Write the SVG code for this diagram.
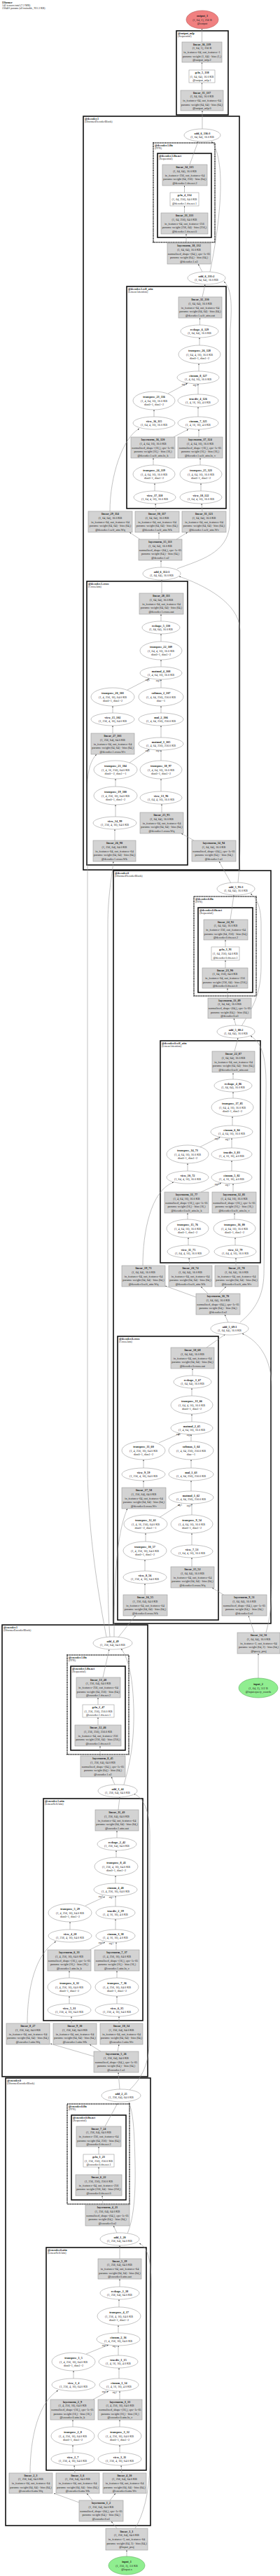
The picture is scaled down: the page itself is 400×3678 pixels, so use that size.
<svg xmlns="http://www.w3.org/2000/svg" width="400" height="3678" viewBox="0 0 400 3678">
<style>
text{font-family:"Liberation Serif","Times New Roman",serif;font-size:4.2px;fill:#222;text-anchor:middle}
.b{font-weight:bold}
.g{fill:#d3d3d3;stroke:#9a9a9a;stroke-width:.6}
.w{fill:#fff;stroke:#9a9a9a;stroke-width:.6}
.e{fill:#fff;stroke:#9a9a9a;stroke-width:.6}
.in{fill:#90ee90;stroke:#5fae5f;stroke-width:.6}
.out{fill:#f08080;stroke:#b85a5a;stroke-width:.6}
.c{fill:none;stroke:#111;stroke-width:1.6}
.cd{fill:none;stroke:#111;stroke-width:1.6;stroke-dasharray:1 .7}
.cl{text-anchor:start;font-size:4px}
.tt{text-anchor:start;font-size:3.8px}
.edges path{fill:none;stroke:#999;stroke-width:.6;marker-end:url(#a)}
.el{font-size:3.2px}
</style>
<defs><marker id="a" viewBox="0 0 4 3" refX="4" refY="1.5" markerWidth="2.4" markerHeight="1.8" markerUnits="userSpaceOnUse" orient="auto"><path d="M0,0L4,1.5L0,3z" fill="#333"/></marker></defs>
<rect width="400" height="3678" fill="#fff"/>
<g id="title"><text class="tt" x="3" y="5.3"><tspan class="b">IJformer</tspan><tspan x="3" dy="3.8">142 tensors total (7.2 MB)</tspan><tspan x="3" dy="3.8">230401 params (all trainable, 931.3 KB)</tspan></text></g>

<g id="clusters">
<g id="cl_output_mlp"><rect class="c" x="252" y="44" width="74" height="120"/><text class="cl" x="254" y="48.6"><tspan class="b">@output_mlp</tspan><tspan x="254" dy="4">(Sequential)</tspan></text></g>
<g id="cl_decoder1"><rect class="c" x="119" y="166" width="223" height="1076"/><text class="cl" x="121" y="170.6"><tspan class="b">@decoder.1</tspan><tspan x="121" dy="4">(IJformerDecoderBlock)</tspan></text></g>
<g id="cl_decoder1_ffn"><rect class="cd" x="219" y="204" width="88" height="142"/><text class="cl" x="221" y="208.6"><tspan class="b">@decoder.1.ffn</tspan><tspan x="221" dy="4">(FFN)</tspan></text></g>
<g id="cl_decoder1_ffn_net"><rect class="c" x="225" y="219" width="77" height="120"/><text class="cl" x="227" y="223.6"><tspan class="b">@decoder.1.ffn.net</tspan><tspan x="227" dy="4">(Sequential)</tspan></text></g>
<g id="cl_decoder1_self_attn"><rect class="c" x="181" y="409" width="142" height="317"/><text class="cl" x="183" y="413.6"><tspan class="b">@decoder.1.self_attn</tspan><tspan x="183" dy="4">(LinearAttention)</tspan></text></g>
<g id="cl_decoder1_cross"><rect class="c" x="124" y="830" width="144" height="405"/><text class="cl" x="126" y="834.6"><tspan class="b">@decoder.1.cross</tspan><tspan x="126" dy="4">(CrossAttn)</tspan></text></g>
<g id="cl_decoder0"><rect class="c" x="162" y="1243" width="225" height="1075"/><text class="cl" x="164" y="1247.6"><tspan class="b">@decoder.0</tspan><tspan x="164" dy="4">(IJformerDecoderBlock)</tspan></text></g>
<g id="cl_decoder0_ffn"><rect class="cd" x="277" y="1280" width="89" height="142"/><text class="cl" x="279" y="1284.6"><tspan class="b">@decoder.0.ffn</tspan><tspan x="279" dy="4">(FFN)</tspan></text></g>
<g id="cl_decoder0_ffn_net"><rect class="c" x="283" y="1296" width="78" height="121"/><text class="cl" x="285" y="1300.6"><tspan class="b">@decoder.0.ffn.net</tspan><tspan x="285" dy="4">(Sequential)</tspan></text></g>
<g id="cl_decoder0_self_attn"><rect class="c" x="229" y="1486" width="143" height="317"/><text class="cl" x="231" y="1490.6"><tspan class="b">@decoder.0.self_attn</tspan><tspan x="231" dy="4">(LinearAttention)</tspan></text></g>
<g id="cl_decoder0_cross"><rect class="c" x="168" y="1908" width="144" height="405"/><text class="cl" x="170" y="1912.6"><tspan class="b">@decoder.0.cross</tspan><tspan x="170" dy="4">(CrossAttn)</tspan></text></g>
<g id="cl_encoder1"><rect class="c" x="3" y="2320" width="208" height="645"/><text class="cl" x="5" y="2324.6"><tspan class="b">@encoder.1</tspan><tspan x="5" dy="4">(IJformerEncoderBlock)</tspan></text></g>
<g id="cl_encoder1_ffn"><rect class="cd" x="96" y="2363" width="88" height="142"/><text class="cl" x="98" y="2367.6"><tspan class="b">@encoder.1.ffn</tspan><tspan x="98" dy="4">(FFN)</tspan></text></g>
<g id="cl_encoder1_ffn_net"><rect class="c" x="101" y="2379" width="78" height="120"/><text class="cl" x="103" y="2383.6"><tspan class="b">@encoder.1.ffn.net</tspan><tspan x="103" dy="4">(Sequential)</tspan></text></g>
<g id="cl_encoder1_attn"><rect class="c" x="62" y="2568" width="142" height="317"/><text class="cl" x="64" y="2572.6"><tspan class="b">@encoder.1.attn</tspan><tspan x="64" dy="4">(LinearSelfAttn)</tspan></text></g>
<g id="cl_encoder0"><rect class="c" x="8" y="2967" width="207" height="639"/><text class="cl" x="10" y="2971.6"><tspan class="b">@encoder.0</tspan><tspan x="10" dy="4">(IJformerEncoderBlock)</tspan></text></g>
<g id="cl_encoder0_ffn"><rect class="cd" x="96" y="3004" width="89" height="143"/><text class="cl" x="98" y="3008.6"><tspan class="b">@encoder.0.ffn</tspan><tspan x="98" dy="4">(FFN)</tspan></text></g>
<g id="cl_encoder0_ffn_net"><rect class="c" x="102" y="3020" width="78" height="121"/><text class="cl" x="104" y="3024.6"><tspan class="b">@encoder.0.ffn.net</tspan><tspan x="104" dy="4">(Sequential)</tspan></text></g>
<g id="cl_encoder0_attn"><rect class="c" x="66" y="3209" width="143" height="318"/><text class="cl" x="68" y="3213.6"><tspan class="b">@encoder.0.attn</tspan><tspan x="68" dy="4">(LinearSelfAttn)</tspan></text></g>
</g>

<g id="connectors" class="edges">
<path d="M289,184L289,158"/>
<path d="M288.5,129L288.5,118"/>
<path d="M288.5,100L288.5,89"/>
<path d="M288.5,60L288.5,41"/>
<path d="M271,235L283,202"/>
<path d="M300,388C310,340 318,280 314,240C311,215 306,206 302,202"/>
<path d="M263.5,304L263.5,294"/>
<path d="M263.5,275L263.5,265"/>
<path d="M266,347L266,334"/>
<path d="M289,388L283,377"/>
<path d="M289,424L293,406"/>
<path d="M253,812C285,800 325,790 328,750L329,470C332,430 330,412 320,402"/>
<path d="M285.5,464L285.5,454"/>
<path d="M285,493L285,482"/>
<path d="M284,530L284,519"/>
<path d="M240,562L268,547"/>
<path d="M283,563L283,548"/>
<path d="M220,595L220,585"/>
<path d="M283,595L283,581"/>
<path d="M157,730C157,680 175,625 199,612"/>
<path d="M248,624L269,613"/>
<path d="M284,624L284,613"/>
<path d="M219,664L219,654"/>
<path d="M286,664L286,654"/>
<path d="M221,701L221,690"/>
<path d="M287,701L287,690"/>
<path d="M223,730L222,719"/>
<path d="M289,730L288,719"/>
<path d="M200,770L185,760"/>
<path d="M227,770L227,760"/>
<path d="M252,770L268,760"/>
<path d="M230,810L230,800"/>
<path d="M231,847L231,828"/>
<path d="M340,1260C342,1240 343,1220 343,1200L343,900C342,860 290,835 256,823"/>
<path d="M330,1261L313,1230"/>
<path d="M277,1200L259,1190"/>
<path d="M231,1160L231,1148"/>
<path d="M230,1130L230,1112"/>
<path d="M230,1086L230,1071"/>
<path d="M164,1200L164,1184"/>
<path d="M165,1166L165,1149"/>
<path d="M165,1123L165,1112"/>
<path d="M185,1089L213,1070"/>
<path d="M230,1053L230,1036"/>
<path d="M230,1018L230,1008"/>
<path d="M230,982L230,970"/>
<path d="M161,1047L161,1036"/>
<path d="M161,1018L161,1008"/>
<path d="M182,985L213,969"/>
<path d="M230,952L230,942"/>
<path d="M230,916L230,905"/>
<path d="M230,887L230,877"/>
<path d="M337,1464L334,1454"/>
<path d="M345,1465C360,1440 373,1420 373,1380L373,1320C373,1295 367,1283 358,1276"/>
<path d="M325,1425L325,1411"/>
<path d="M322,1382L322,1371"/>
<path d="M322,1352L322,1342"/>
<path d="M329,1313L334,1278"/>
<path d="M335,1501L340,1482"/>
<path d="M343,1888C365,1870 376,1850 377,1820L380,1560C381,1510 375,1490 358,1479"/>
<path d="M333,1541L333,1532"/>
<path d="M333,1568L333,1559"/>
<path d="M332,1607L332,1594"/>
<path d="M285,1638L315,1623"/>
<path d="M331,1639L331,1625"/>
<path d="M268,1672L268,1661"/>
<path d="M331,1672L331,1657"/>
<path d="M204,1807C204,1760 215,1700 248,1688"/>
<path d="M287,1702L316,1689"/>
<path d="M333,1702L333,1690"/>
<path d="M268,1741L268,1732"/>
<path d="M335,1741L335,1732"/>
<path d="M269,1778L269,1767"/>
<path d="M336,1778L336,1767"/>
<path d="M271,1807L270,1796"/>
<path d="M337,1807L337,1796"/>
<path d="M280,1852L236,1836"/>
<path d="M297,1847L287,1837"/>
<path d="M313,1847L323,1837"/>
<path d="M326,1888L321,1877"/>
<path d="M295,1924L322,1905"/>
<path d="M380,2331C386,2310 388,2290 388,2260L388,1980C388,1940 370,1915 346,1904"/>
<path d="M363,2331L355,2307"/>
<path d="M369,2396L369,2361"/>
<path d="M321,2278L303,2267"/>
<path d="M274,2237L274,2224"/>
<path d="M274,2206L274,2189"/>
<path d="M274,2163L274,2147"/>
<path d="M207,2277L207,2261"/>
<path d="M207,2243L207,2227"/>
<path d="M208,2201L208,2189"/>
<path d="M227,2167L257,2148"/>
<path d="M273,2129L273,2114"/>
<path d="M273,2096L273,2084"/>
<path d="M273,2058L273,2048"/>
<path d="M205,2124L205,2114"/>
<path d="M205,2096L205,2084"/>
<path d="M227,2060L257,2047"/>
<path d="M274,2030L274,2019"/>
<path d="M274,1993L274,1982"/>
<path d="M275,1964L275,1954"/>
<path d="M168,2339L194,2306"/>
<path d="M163,2337C163,2260 166,2190 182,2154"/>
<path d="M152,2337C145,2300 126,2200 125,2100L125,1120C125,1100 130,1085 138,1077"/>
<path d="M157,2337C154,2300 154,2250 154,2200L154,1320C154,1280 160,1250 162,1230"/>
<path d="M143,2507L143,2493"/>
<path d="M140,2463L140,2452"/>
<path d="M140,2434L140,2424"/>
<path d="M147,2395L156,2355"/>
<path d="M177,2548C185,2520 192,2490 191,2440C190,2400 185,2370 173,2354"/>
<path d="M164,2548L159,2537"/>
<path d="M169,2584L171,2566"/>
<path d="M167,2624L167,2614"/>
<path d="M166,2652L166,2642"/>
<path d="M165,2689L165,2678"/>
<path d="M122,2721L150,2708"/>
<path d="M165,2722L165,2707"/>
<path d="M100,2755L100,2744"/>
<path d="M165,2755L165,2740"/>
<path d="M39,2889C39,2840 50,2790 80,2772"/>
<path d="M128,2784L150,2773"/>
<path d="M166,2784L166,2773"/>
<path d="M99,2824L99,2814"/>
<path d="M167,2824L167,2814"/>
<path d="M99,2861L99,2850"/>
<path d="M167,2861L167,2850"/>
<path d="M102,2889L102,2879"/>
<path d="M170,2889L170,2879"/>
<path d="M134,2936L72,2918"/>
<path d="M144,2929L128,2919"/>
<path d="M168,2929L170,2919"/>
<path d="M171,2983L169,2959"/>
<path d="M185,2984C200,2970 212,2950 213,2920L214,2620C214,2585 205,2567 191,2561"/>
<path d="M150,3036L168,3003"/>
<path d="M182,3189C190,3170 194,3140 193,3090C192,3040 190,3015 184,3002"/>
<path d="M167,3188L162,3178"/>
<path d="M147,3148L146,3135"/>
<path d="M141,3105L141,3094"/>
<path d="M141,3076L141,3065"/>
<path d="M171,3225L171,3206"/>
<path d="M171,3265L171,3254"/>
<path d="M170,3294L170,3283"/>
<path d="M169,3331L169,3320"/>
<path d="M123,3361L155,3348"/>
<path d="M169,3363L169,3349"/>
<path d="M105,3396L105,3385"/>
<path d="M170,3396L170,3381"/>
<path d="M43,3531C43,3480 55,3430 83,3413"/>
<path d="M133,3426L155,3414"/>
<path d="M171,3426L171,3414"/>
<path d="M104,3465L104,3455"/>
<path d="M171,3465L171,3455"/>
<path d="M104,3502L104,3491"/>
<path d="M171,3502L171,3491"/>
<path d="M107,3531L106,3520"/>
<path d="M174,3531L173,3520"/>
<path d="M113,3573L77,3560"/>
<path d="M132,3570L124,3560"/>
<path d="M157,3570L165,3560"/>
<path d="M167,3610L159,3600"/>
<path d="M193,3610C205,3590 213,3560 214,3520L216,3260C216,3225 210,3208 199,3203"/>
<path d="M181,3650L181,3641"/>
</g>
<g id="edge-labels">
<text class="el" x="263" y="550">arg 0</text><text class="el" x="279" y="551">arg 1</text>
<text class="el" x="211" y="972">arg 1</text><text class="el" x="226" y="973">arg 0</text>
<text class="el" x="211" y="1073">arg 1</text><text class="el" x="226" y="1073">arg 0</text>
<text class="el" x="310" y="1627">arg 0</text><text class="el" x="325" y="1628">arg 1</text>
<text class="el" x="310" y="1692">arg 0</text><text class="el" x="325" y="1693">arg 1</text>
<text class="el" x="255" y="2049">arg 1</text><text class="el" x="270" y="2050">arg 0</text>
<text class="el" x="257" y="2150">arg 1</text><text class="el" x="270" y="2151">arg 0</text>
<text class="el" x="144" y="2709">arg 0</text><text class="el" x="159" y="2710">arg 1</text>
<text class="el" x="144" y="2775">arg 0</text><text class="el" x="159" y="2776">arg 1</text>
<text class="el" x="149" y="3350">arg 0</text><text class="el" x="164" y="3351">arg 1</text>
<text class="el" x="149" y="3416">arg 0</text><text class="el" x="164" y="3417">arg 1</text>
</g>

<g id="output_1"><ellipse class="out" cx="289" cy="28" rx="23" ry="13"/><text x="289" y="23.9"><tspan class="b">output_1</tspan><tspan x="289" dy="5.6">(1, 64, 1), 256 B</tspan><tspan x="289" dy="5.6">@output</tspan></text></g>
<g id="linear_36_139"><rect class="g" x="260" y="60" width="57" height="29"/><text x="288.5" y="64.8"><tspan class="b">linear_36_139</tspan><tspan x="288.5" dy="5.6">(1, 64, 1), 256 B</tspan><tspan x="288.5" dy="5.6">in_features=64, out_features=1</tspan><tspan x="288.5" dy="5.6">params: weight (1, 64) · bias (1,)</tspan><tspan x="288.5" dy="5.6">@output_mlp.2</tspan></text></g>
<g id="gelu_5_138"><rect class="w" x="270" y="100" width="37" height="18"/><text x="288.5" y="104.9"><tspan class="b">gelu_5_138</tspan><tspan x="288.5" dy="5.6">(1, 64, 64), 16.0 KB</tspan><tspan x="288.5" dy="5.6">@output_mlp.1</tspan></text></g>
<g id="linear_35_137"><rect class="g" x="258" y="129" width="61" height="29"/><text x="288.5" y="133.8"><tspan class="b">linear_35_137</tspan><tspan x="288.5" dy="5.6">(1, 64, 64), 16.0 KB</tspan><tspan x="288.5" dy="5.6">in_features=64, out_features=64</tspan><tspan x="288.5" dy="5.6">params: weight (64, 64) · bias (64,)</tspan><tspan x="288.5" dy="5.6">@output_mlp.0</tspan></text></g>
<g id="add_6_136_3"><ellipse class="e" cx="289" cy="193" rx="26" ry="9"/><text x="289" y="191.7"><tspan class="b">add_6_136:3</tspan><tspan x="289" dy="5.6">(1, 64, 64), 16.0 KB</tspan></text></g>
<g id="linear_34_135"><rect class="g" x="232" y="235" width="64" height="30"/><text x="264" y="240.3"><tspan class="b">linear_34_135</tspan><tspan x="264" dy="5.6">(1, 64, 64), 16.0 KB</tspan><tspan x="264" dy="5.6">in_features=256, out_features=64</tspan><tspan x="264" dy="5.6">params: weight (64, 256) · bias (64,)</tspan><tspan x="264" dy="5.6">@decoder.1.ffn.net.2</tspan></text></g>
<g id="gelu_4_134"><rect class="w" x="243" y="275" width="41" height="19"/><text x="263.5" y="280.4"><tspan class="b">gelu_4_134</tspan><tspan x="263.5" dy="5.6">(1, 64, 256), 64.0 KB</tspan><tspan x="263.5" dy="5.6">@decoder.1.ffn.net.1</tspan></text></g>
<g id="linear_33_133"><rect class="g" x="230" y="304" width="67" height="30"/><text x="263.5" y="309.3"><tspan class="b">linear_33_133</tspan><tspan x="263.5" dy="5.6">(1, 64, 256), 64.0 KB</tspan><tspan x="263.5" dy="5.6">in_features=64, out_features=256</tspan><tspan x="263.5" dy="5.6">params: weight (256, 64) · bias (256,)</tspan><tspan x="263.5" dy="5.6">@decoder.1.ffn.net.0</tspan></text></g>
<g id="layernorm_18_132"><rect class="g" x="239" y="347" width="62" height="30"/><text x="270" y="352.3"><tspan class="b">layernorm_18_132</tspan><tspan x="270" dy="5.6">(1, 64, 64), 16.0 KB</tspan><tspan x="270" dy="5.6">normalized_shape=(64,), eps=1e-05</tspan><tspan x="270" dy="5.6">params: weight (64,) · bias (64,)</tspan><tspan x="270" dy="5.6">@decoder.1.n3</tspan></text></g>
<g id="add_6_131_2"><ellipse class="e" cx="295" cy="397" rx="27" ry="9"/><text x="295" y="395.7"><tspan class="b">add_6_131:2</tspan><tspan x="295" dy="5.6">(1, 64, 64), 16.0 KB</tspan></text></g>
<g id="linear_32_130"><rect class="g" x="255" y="424" width="62" height="30"/><text x="286" y="429.3"><tspan class="b">linear_32_130</tspan><tspan x="286" dy="5.6">(1, 64, 64), 16.0 KB</tspan><tspan x="286" dy="5.6">in_features=64, out_features=64</tspan><tspan x="286" dy="5.6">params: weight (64, 64) · bias (64,)</tspan><tspan x="286" dy="5.6">@decoder.1.self_attn.out</tspan></text></g>
<g id="reshape_6_129"><ellipse class="e" cx="285" cy="473" rx="27" ry="9"/><text x="285" y="471.7"><tspan class="b">reshape_6_129</tspan><tspan x="285" dy="5.6">(1, 64, 64), 16.0 KB</tspan></text></g>
<g id="transpose_26_128"><ellipse class="e" cx="285" cy="506" rx="30" ry="13"/><text x="285" y="501.9"><tspan class="b">transpose_26_128</tspan><tspan x="285" dy="5.6">(1, 64, 4, 16), 16.0 KB</tspan><tspan x="285" dy="5.6">dim0=1, dim1=2</tspan></text></g>
<g id="einsum_8_127"><ellipse class="e" cx="283" cy="539" rx="30" ry="9"/><text x="283" y="537.7"><tspan class="b">einsum_8_127</tspan><tspan x="283" dy="5.6">(1, 4, 64, 16), 16.0 KB</tspan></text></g>
<g id="transpose_23_116"><ellipse class="e" cx="220" cy="572" rx="30" ry="13"/><text x="220" y="567.9"><tspan class="b">transpose_23_116</tspan><tspan x="220" dy="5.6">(1, 4, 64, 16), 16.0 KB</tspan><tspan x="220" dy="5.6">dim0=1, dim1=2</tspan></text></g>
<g id="truediv_4_126"><ellipse class="e" cx="283" cy="572" rx="29" ry="9"/><text x="283" y="570.7"><tspan class="b">truediv_4_126</tspan><tspan x="283" dy="5.6">(1, 4, 16, 16), 4.0 KB</tspan></text></g>
<g id="view_16_115"><ellipse class="e" cx="220" cy="604" rx="30" ry="9"/><text x="220" y="602.7"><tspan class="b">view_16_115</tspan><tspan x="220" dy="5.6">(1, 64, 4, 16), 16.0 KB</tspan></text></g>
<g id="einsum_7_125"><ellipse class="e" cx="283" cy="604" rx="29" ry="9"/><text x="283" y="602.7"><tspan class="b">einsum_7_125</tspan><tspan x="283" dy="5.6">(1, 4, 16, 16), 4.0 KB</tspan></text></g>
<g id="layernorm_16_120"><rect class="g" x="187" y="624" width="63" height="30"/><text x="218.5" y="629.3"><tspan class="b">layernorm_16_120</tspan><tspan x="218.5" dy="5.6">(1, 4, 64, 16), 16.0 KB</tspan><tspan x="218.5" dy="5.6">normalized_shape=(16,), eps=1e-05</tspan><tspan x="218.5" dy="5.6">params: weight (16,) · bias (16,)</tspan><tspan x="218.5" dy="5.6">@decoder.1.self_attn.ln_k</tspan></text></g>
<g id="layernorm_17_124"><rect class="g" x="254" y="624" width="64" height="30"/><text x="286" y="629.3"><tspan class="b">layernorm_17_124</tspan><tspan x="286" dy="5.6">(1, 4, 64, 16), 16.0 KB</tspan><tspan x="286" dy="5.6">normalized_shape=(16,), eps=1e-05</tspan><tspan x="286" dy="5.6">params: weight (16,) · bias (16,)</tspan><tspan x="286" dy="5.6">@decoder.1.self_attn.ln_v</tspan></text></g>
<g id="transpose_24_119"><ellipse class="e" cx="220" cy="677" rx="30" ry="13"/><text x="220" y="672.9"><tspan class="b">transpose_24_119</tspan><tspan x="220" dy="5.6">(1, 4, 64, 16), 16.0 KB</tspan><tspan x="220" dy="5.6">dim0=1, dim1=2</tspan></text></g>
<g id="transpose_25_123"><ellipse class="e" cx="287" cy="677" rx="30" ry="13"/><text x="287" y="672.9"><tspan class="b">transpose_25_123</tspan><tspan x="287" dy="5.6">(1, 4, 64, 16), 16.0 KB</tspan><tspan x="287" dy="5.6">dim0=1, dim1=2</tspan></text></g>
<g id="view_17_118"><ellipse class="e" cx="221" cy="710" rx="30" ry="9"/><text x="221" y="708.7"><tspan class="b">view_17_118</tspan><tspan x="221" dy="5.6">(1, 64, 4, 16), 16.0 KB</tspan></text></g>
<g id="view_18_122"><ellipse class="e" cx="287" cy="710" rx="30" ry="9"/><text x="287" y="708.7"><tspan class="b">view_18_122</tspan><tspan x="287" dy="5.6">(1, 64, 4, 16), 16.0 KB</tspan></text></g>
<g id="linear_29_114"><rect class="g" x="126" y="730" width="63" height="30"/><text x="157.5" y="735.3"><tspan class="b">linear_29_114</tspan><tspan x="157.5" dy="5.6">(1, 64, 64), 16.0 KB</tspan><tspan x="157.5" dy="5.6">in_features=64, out_features=64</tspan><tspan x="157.5" dy="5.6">params: weight (64, 64) · bias (64,)</tspan><tspan x="157.5" dy="5.6">@decoder.1.self_attn.Wq</tspan></text></g>
<g id="linear_30_117"><rect class="g" x="193" y="730" width="63" height="30"/><text x="224.5" y="735.3"><tspan class="b">linear_30_117</tspan><tspan x="224.5" dy="5.6">(1, 64, 64), 16.0 KB</tspan><tspan x="224.5" dy="5.6">in_features=64, out_features=64</tspan><tspan x="224.5" dy="5.6">params: weight (64, 64) · bias (64,)</tspan><tspan x="224.5" dy="5.6">@decoder.1.self_attn.Wk</tspan></text></g>
<g id="linear_31_121"><rect class="g" x="260" y="730" width="63" height="30"/><text x="291.5" y="735.3"><tspan class="b">linear_31_121</tspan><tspan x="291.5" dy="5.6">(1, 64, 64), 16.0 KB</tspan><tspan x="291.5" dy="5.6">in_features=64, out_features=64</tspan><tspan x="291.5" dy="5.6">params: weight (64, 64) · bias (64,)</tspan><tspan x="291.5" dy="5.6">@decoder.1.self_attn.Wv</tspan></text></g>
<g id="layernorm_15_113"><rect class="g" x="198" y="770" width="62" height="30"/><text x="229" y="775.3"><tspan class="b">layernorm_15_113</tspan><tspan x="229" dy="5.6">(1, 64, 64), 16.0 KB</tspan><tspan x="229" dy="5.6">normalized_shape=(64,), eps=1e-05</tspan><tspan x="229" dy="5.6">params: weight (64,) · bias (64,)</tspan><tspan x="229" dy="5.6">@decoder.1.n2</tspan></text></g>
<g id="add_6_112_1"><ellipse class="e" cx="231" cy="819" rx="27" ry="9"/><text x="231" y="817.7"><tspan class="b">add_6_112:1</tspan><tspan x="231" dy="5.6">(1, 64, 64), 16.0 KB</tspan></text></g>
<g id="linear_28_111"><rect class="g" x="199" y="847" width="63" height="30"/><text x="230.5" y="852.3"><tspan class="b">linear_28_111</tspan><tspan x="230.5" dy="5.6">(1, 64, 64), 16.0 KB</tspan><tspan x="230.5" dy="5.6">in_features=64, out_features=64</tspan><tspan x="230.5" dy="5.6">params: weight (64, 64) · bias (64,)</tspan><tspan x="230.5" dy="5.6">@decoder.1.cross.out</tspan></text></g>
<g id="reshape_5_110"><ellipse class="e" cx="230" cy="896" rx="27" ry="9"/><text x="230" y="894.7"><tspan class="b">reshape_5_110</tspan><tspan x="230" dy="5.6">(1, 64, 64), 16.0 KB</tspan></text></g>
<g id="transpose_22_109"><ellipse class="e" cx="230" cy="929" rx="30" ry="13"/><text x="230" y="924.9"><tspan class="b">transpose_22_109</tspan><tspan x="230" dy="5.6">(1, 64, 4, 16), 16.0 KB</tspan><tspan x="230" dy="5.6">dim0=1, dim1=2</tspan></text></g>
<g id="matmul_4_108"><ellipse class="e" cx="230" cy="961" rx="30" ry="9"/><text x="230" y="959.7"><tspan class="b">matmul_4_108</tspan><tspan x="230" dy="5.6">(1, 4, 64, 16), 16.0 KB</tspan></text></g>
<g id="transpose_20_103"><ellipse class="e" cx="161" cy="995" rx="31" ry="13"/><text x="161" y="990.9"><tspan class="b">transpose_20_103</tspan><tspan x="161" dy="5.6">(1, 4, 256, 16), 64.0 KB</tspan><tspan x="161" dy="5.6">dim0=1, dim1=2</tspan></text></g>
<g id="softmax_2_107"><ellipse class="e" cx="230" cy="995" rx="32" ry="13"/><text x="230" y="990.9"><tspan class="b">softmax_2_107</tspan><tspan x="230" dy="5.6">(1, 4, 64, 256), 256.0 KB</tspan><tspan x="230" dy="5.6">dim=-1</tspan></text></g>
<g id="view_15_102"><ellipse class="e" cx="161" cy="1027" rx="31" ry="9"/><text x="161" y="1025.7"><tspan class="b">view_15_102</tspan><tspan x="161" dy="5.6">(1, 256, 4, 16), 64.0 KB</tspan></text></g>
<g id="mul_2_106"><ellipse class="e" cx="230" cy="1027" rx="32" ry="9"/><text x="230" y="1025.7"><tspan class="b">mul_2_106</tspan><tspan x="230" dy="5.6">(1, 4, 64, 256), 256.0 KB</tspan></text></g>
<g id="linear_27_101"><rect class="g" x="130" y="1047" width="62" height="30"/><text x="161" y="1052.3"><tspan class="b">linear_27_101</tspan><tspan x="161" dy="5.6">(1, 256, 64), 64.0 KB</tspan><tspan x="161" dy="5.6">in_features=64, out_features=64</tspan><tspan x="161" dy="5.6">params: weight (64, 64) · bias (64,)</tspan><tspan x="161" dy="5.6">@decoder.1.cross.Wv</tspan></text></g>
<g id="matmul_3_105"><ellipse class="e" cx="230" cy="1062" rx="32" ry="9"/><text x="230" y="1060.7"><tspan class="b">matmul_3_105</tspan><tspan x="230" dy="5.6">(1, 4, 64, 256), 256.0 KB</tspan></text></g>
<g id="transpose_21_104"><ellipse class="e" cx="165" cy="1099" rx="31" ry="13"/><text x="165" y="1094.9"><tspan class="b">transpose_21_104</tspan><tspan x="165" dy="5.6">(1, 4, 16, 256), 64.0 KB</tspan><tspan x="165" dy="5.6">dim0=-2, dim1=-1</tspan></text></g>
<g id="transpose_18_97"><ellipse class="e" cx="230" cy="1099" rx="30" ry="13"/><text x="230" y="1094.9"><tspan class="b">transpose_18_97</tspan><tspan x="230" dy="5.6">(1, 4, 64, 16), 16.0 KB</tspan><tspan x="230" dy="5.6">dim0=1, dim1=2</tspan></text></g>
<g id="transpose_19_100"><ellipse class="e" cx="165" cy="1136" rx="31" ry="13"/><text x="165" y="1131.9"><tspan class="b">transpose_19_100</tspan><tspan x="165" dy="5.6">(1, 4, 256, 16), 64.0 KB</tspan><tspan x="165" dy="5.6">dim0=1, dim1=2</tspan></text></g>
<g id="view_13_96"><ellipse class="e" cx="230" cy="1139" rx="30" ry="9"/><text x="230" y="1137.7"><tspan class="b">view_13_96</tspan><tspan x="230" dy="5.6">(1, 64, 4, 16), 16.0 KB</tspan></text></g>
<g id="linear_25_95"><rect class="g" x="200" y="1160" width="62" height="30"/><text x="231" y="1165.3"><tspan class="b">linear_25_95</tspan><tspan x="231" dy="5.6">(1, 64, 64), 16.0 KB</tspan><tspan x="231" dy="5.6">in_features=64, out_features=64</tspan><tspan x="231" dy="5.6">params: weight (64, 64) · bias (64,)</tspan><tspan x="231" dy="5.6">@decoder.1.cross.Wq</tspan></text></g>
<g id="view_14_99"><ellipse class="e" cx="164" cy="1175" rx="31" ry="9"/><text x="164" y="1173.7"><tspan class="b">view_14_99</tspan><tspan x="164" dy="5.6">(1, 256, 4, 16), 64.0 KB</tspan></text></g>
<g id="linear_26_98"><rect class="g" x="133" y="1200" width="61" height="30"/><text x="163.5" y="1205.3"><tspan class="b">linear_26_98</tspan><tspan x="163.5" dy="5.6">(1, 256, 64), 64.0 KB</tspan><tspan x="163.5" dy="5.6">in_features=64, out_features=64</tspan><tspan x="163.5" dy="5.6">params: weight (64, 64) · bias (64,)</tspan><tspan x="163.5" dy="5.6">@decoder.1.cross.Wk</tspan></text></g>
<g id="layernorm_14_94"><rect class="g" x="274" y="1200" width="63" height="30"/><text x="305.5" y="1205.3"><tspan class="b">layernorm_14_94</tspan><tspan x="305.5" dy="5.6">(1, 64, 64), 16.0 KB</tspan><tspan x="305.5" dy="5.6">normalized_shape=(64,), eps=1e-05</tspan><tspan x="305.5" dy="5.6">params: weight (64,) · bias (64,)</tspan><tspan x="305.5" dy="5.6">@decoder.1.n1</tspan></text></g>

<g id="add_5_93_3"><ellipse class="e" cx="337" cy="1269" rx="27" ry="9"/><text x="337" y="1267.7"><tspan class="b">add_5_93:3</tspan><tspan x="337" dy="5.6">(1, 64, 64), 16.0 KB</tspan></text></g>
<g id="linear_24_92"><rect class="g" x="291" y="1313" width="63" height="29"/><text x="322.5" y="1317.8"><tspan class="b">linear_24_92</tspan><tspan x="322.5" dy="5.6">(1, 64, 64), 16.0 KB</tspan><tspan x="322.5" dy="5.6">in_features=256, out_features=64</tspan><tspan x="322.5" dy="5.6">params: weight (64, 256) · bias (64,)</tspan><tspan x="322.5" dy="5.6">@decoder.0.ffn.net.2</tspan></text></g>
<g id="gelu_3_91"><rect class="w" x="302" y="1352" width="40" height="19"/><text x="322" y="1357.4"><tspan class="b">gelu_3_91</tspan><tspan x="322" dy="5.6">(1, 64, 256), 64.0 KB</tspan><tspan x="322" dy="5.6">@decoder.0.ffn.net.1</tspan></text></g>
<g id="linear_23_90"><rect class="g" x="289" y="1382" width="65" height="29"/><text x="321.5" y="1386.8"><tspan class="b">linear_23_90</tspan><tspan x="321.5" dy="5.6">(1, 64, 256), 64.0 KB</tspan><tspan x="321.5" dy="5.6">in_features=64, out_features=256</tspan><tspan x="321.5" dy="5.6">params: weight (256, 64) · bias (256,)</tspan><tspan x="321.5" dy="5.6">@decoder.0.ffn.net.0</tspan></text></g>
<g id="layernorm_13_89"><rect class="g" x="297" y="1425" width="62" height="29"/><text x="328" y="1429.8"><tspan class="b">layernorm_13_89</tspan><tspan x="328" dy="5.6">(1, 64, 64), 16.0 KB</tspan><tspan x="328" dy="5.6">normalized_shape=(64,), eps=1e-05</tspan><tspan x="328" dy="5.6">params: weight (64,) · bias (64,)</tspan><tspan x="328" dy="5.6">@decoder.0.n3</tspan></text></g>
<g id="add_5_88_2"><ellipse class="e" cx="337" cy="1473" rx="27" ry="9"/><text x="337" y="1471.7"><tspan class="b">add_5_88:2</tspan><tspan x="337" dy="5.6">(1, 64, 64), 16.0 KB</tspan></text></g>
<g id="linear_22_87"><rect class="g" x="303" y="1501" width="61" height="30"/><text x="333.5" y="1506.3"><tspan class="b">linear_22_87</tspan><tspan x="333.5" dy="5.6">(1, 64, 64), 16.0 KB</tspan><tspan x="333.5" dy="5.6">in_features=64, out_features=64</tspan><tspan x="333.5" dy="5.6">params: weight (64, 64) · bias (64,)</tspan><tspan x="333.5" dy="5.6">@decoder.0.self_attn.out</tspan></text></g>
<g id="reshape_4_86"><ellipse class="e" cx="333" cy="1550" rx="27" ry="9"/><text x="333" y="1548.7"><tspan class="b">reshape_4_86</tspan><tspan x="333" dy="5.6">(1, 64, 64), 16.0 KB</tspan></text></g>
<g id="transpose_17_85"><ellipse class="e" cx="332" cy="1581" rx="30" ry="13"/><text x="332" y="1576.9"><tspan class="b">transpose_17_85</tspan><tspan x="332" dy="5.6">(1, 64, 4, 16), 16.0 KB</tspan><tspan x="332" dy="5.6">dim0=1, dim1=2</tspan></text></g>
<g id="einsum_6_84"><ellipse class="e" cx="331" cy="1616" rx="30" ry="9"/><text x="331" y="1614.7"><tspan class="b">einsum_6_84</tspan><tspan x="331" dy="5.6">(1, 4, 64, 16), 16.0 KB</tspan></text></g>
<g id="transpose_14_73"><ellipse class="e" cx="268" cy="1648" rx="30" ry="13"/><text x="268" y="1643.9"><tspan class="b">transpose_14_73</tspan><tspan x="268" dy="5.6">(1, 4, 64, 16), 16.0 KB</tspan><tspan x="268" dy="5.6">dim0=1, dim1=2</tspan></text></g>
<g id="truediv_3_83"><ellipse class="e" cx="331" cy="1648" rx="29" ry="9"/><text x="331" y="1646.7"><tspan class="b">truediv_3_83</tspan><tspan x="331" dy="5.6">(1, 4, 16, 16), 4.0 KB</tspan></text></g>
<g id="view_10_72"><ellipse class="e" cx="268" cy="1681" rx="30" ry="9"/><text x="268" y="1679.7"><tspan class="b">view_10_72</tspan><tspan x="268" dy="5.6">(1, 64, 4, 16), 16.0 KB</tspan></text></g>
<g id="einsum_5_82"><ellipse class="e" cx="331" cy="1681" rx="29" ry="9"/><text x="331" y="1679.7"><tspan class="b">einsum_5_82</tspan><tspan x="331" dy="5.6">(1, 4, 16, 16), 4.0 KB</tspan></text></g>
<g id="layernorm_11_77"><rect class="g" x="235" y="1702" width="63" height="30"/><text x="266.5" y="1707.3"><tspan class="b">layernorm_11_77</tspan><tspan x="266.5" dy="5.6">(1, 4, 64, 16), 16.0 KB</tspan><tspan x="266.5" dy="5.6">normalized_shape=(16,), eps=1e-05</tspan><tspan x="266.5" dy="5.6">params: weight (16,) · bias (16,)</tspan><tspan x="266.5" dy="5.6">@decoder.0.self_attn.ln_k</tspan></text></g>
<g id="layernorm_12_81"><rect class="g" x="303" y="1702" width="63" height="30"/><text x="334.5" y="1707.3"><tspan class="b">layernorm_12_81</tspan><tspan x="334.5" dy="5.6">(1, 4, 64, 16), 16.0 KB</tspan><tspan x="334.5" dy="5.6">normalized_shape=(16,), eps=1e-05</tspan><tspan x="334.5" dy="5.6">params: weight (16,) · bias (16,)</tspan><tspan x="334.5" dy="5.6">@decoder.0.self_attn.ln_v</tspan></text></g>
<g id="transpose_15_76"><ellipse class="e" cx="268" cy="1754" rx="30" ry="13"/><text x="268" y="1749.9"><tspan class="b">transpose_15_76</tspan><tspan x="268" dy="5.6">(1, 4, 64, 16), 16.0 KB</tspan><tspan x="268" dy="5.6">dim0=1, dim1=2</tspan></text></g>
<g id="transpose_16_80"><ellipse class="e" cx="335" cy="1754" rx="30" ry="13"/><text x="335" y="1749.9"><tspan class="b">transpose_16_80</tspan><tspan x="335" dy="5.6">(1, 4, 64, 16), 16.0 KB</tspan><tspan x="335" dy="5.6">dim0=1, dim1=2</tspan></text></g>
<g id="view_11_75"><ellipse class="e" cx="269" cy="1787" rx="30" ry="9"/><text x="269" y="1785.7"><tspan class="b">view_11_75</tspan><tspan x="269" dy="5.6">(1, 64, 4, 16), 16.0 KB</tspan></text></g>
<g id="view_12_79"><ellipse class="e" cx="336" cy="1787" rx="30" ry="9"/><text x="336" y="1785.7"><tspan class="b">view_12_79</tspan><tspan x="336" dy="5.6">(1, 64, 4, 16), 16.0 KB</tspan></text></g>
<g id="linear_19_71"><rect class="g" x="174" y="1807" width="62" height="30"/><text x="205" y="1812.3"><tspan class="b">linear_19_71</tspan><tspan x="205" dy="5.6">(1, 64, 64), 16.0 KB</tspan><tspan x="205" dy="5.6">in_features=64, out_features=64</tspan><tspan x="205" dy="5.6">params: weight (64, 64) · bias (64,)</tspan><tspan x="205" dy="5.6">@decoder.0.self_attn.Wq</tspan></text></g>
<g id="linear_20_74"><rect class="g" x="241" y="1807" width="62" height="30"/><text x="272" y="1812.3"><tspan class="b">linear_20_74</tspan><tspan x="272" dy="5.6">(1, 64, 64), 16.0 KB</tspan><tspan x="272" dy="5.6">in_features=64, out_features=64</tspan><tspan x="272" dy="5.6">params: weight (64, 64) · bias (64,)</tspan><tspan x="272" dy="5.6">@decoder.0.self_attn.Wk</tspan></text></g>
<g id="linear_21_78"><rect class="g" x="307" y="1807" width="62" height="30"/><text x="338" y="1812.3"><tspan class="b">linear_21_78</tspan><tspan x="338" dy="5.6">(1, 64, 64), 16.0 KB</tspan><tspan x="338" dy="5.6">in_features=64, out_features=64</tspan><tspan x="338" dy="5.6">params: weight (64, 64) · bias (64,)</tspan><tspan x="338" dy="5.6">@decoder.0.self_attn.Wv</tspan></text></g>
<g id="layernorm_10_70"><rect class="g" x="280" y="1847" width="63" height="30"/><text x="311.5" y="1852.3"><tspan class="b">layernorm_10_70</tspan><tspan x="311.5" dy="5.6">(1, 64, 64), 16.0 KB</tspan><tspan x="311.5" dy="5.6">normalized_shape=(64,), eps=1e-05</tspan><tspan x="311.5" dy="5.6">params: weight (64,) · bias (64,)</tspan><tspan x="311.5" dy="5.6">@decoder.0.n2</tspan></text></g>
<g id="add_5_69_1"><ellipse class="e" cx="328" cy="1897" rx="27" ry="9"/><text x="328" y="1895.7"><tspan class="b">add_5_69:1</tspan><tspan x="328" dy="5.6">(1, 64, 64), 16.0 KB</tspan></text></g>
<g id="linear_18_68"><rect class="g" x="244" y="1924" width="62" height="30"/><text x="275" y="1929.3"><tspan class="b">linear_18_68</tspan><tspan x="275" dy="5.6">(1, 64, 64), 16.0 KB</tspan><tspan x="275" dy="5.6">in_features=64, out_features=64</tspan><tspan x="275" dy="5.6">params: weight (64, 64) · bias (64,)</tspan><tspan x="275" dy="5.6">@decoder.0.cross.out</tspan></text></g>
<g id="reshape_3_67"><ellipse class="e" cx="275" cy="1973" rx="27" ry="9"/><text x="275" y="1971.7"><tspan class="b">reshape_3_67</tspan><tspan x="275" dy="5.6">(1, 64, 64), 16.0 KB</tspan></text></g>
<g id="transpose_13_66"><ellipse class="e" cx="274" cy="2006" rx="30" ry="13"/><text x="274" y="2001.9"><tspan class="b">transpose_13_66</tspan><tspan x="274" dy="5.6">(1, 64, 4, 16), 16.0 KB</tspan><tspan x="274" dy="5.6">dim0=1, dim1=2</tspan></text></g>
<g id="matmul_2_65"><ellipse class="e" cx="274" cy="2039" rx="30" ry="9"/><text x="274" y="2037.7"><tspan class="b">matmul_2_65</tspan><tspan x="274" dy="5.6">(1, 4, 64, 16), 16.0 KB</tspan></text></g>
<g id="transpose_11_60"><ellipse class="e" cx="205" cy="2071" rx="31" ry="13"/><text x="205" y="2066.9"><tspan class="b">transpose_11_60</tspan><tspan x="205" dy="5.6">(1, 4, 256, 16), 64.0 KB</tspan><tspan x="205" dy="5.6">dim0=1, dim1=2</tspan></text></g>
<g id="softmax_1_64"><ellipse class="e" cx="273" cy="2071" rx="32" ry="13"/><text x="273" y="2066.9"><tspan class="b">softmax_1_64</tspan><tspan x="273" dy="5.6">(1, 4, 64, 256), 256.0 KB</tspan><tspan x="273" dy="5.6">dim=-1</tspan></text></g>
<g id="view_9_59"><ellipse class="e" cx="205" cy="2105" rx="31" ry="9"/><text x="205" y="2103.7"><tspan class="b">view_9_59</tspan><tspan x="205" dy="5.6">(1, 256, 4, 16), 64.0 KB</tspan></text></g>
<g id="mul_1_63"><ellipse class="e" cx="273" cy="2105" rx="32" ry="9"/><text x="273" y="2103.7"><tspan class="b">mul_1_63</tspan><tspan x="273" dy="5.6">(1, 4, 64, 256), 256.0 KB</tspan></text></g>
<g id="linear_17_58"><rect class="g" x="174" y="2124" width="63" height="30"/><text x="205.5" y="2129.3"><tspan class="b">linear_17_58</tspan><tspan x="205.5" dy="5.6">(1, 256, 64), 64.0 KB</tspan><tspan x="205.5" dy="5.6">in_features=64, out_features=64</tspan><tspan x="205.5" dy="5.6">params: weight (64, 64) · bias (64,)</tspan><tspan x="205.5" dy="5.6">@decoder.0.cross.Wv</tspan></text></g>
<g id="matmul_1_62"><ellipse class="e" cx="273" cy="2138" rx="32" ry="9"/><text x="273" y="2136.7"><tspan class="b">matmul_1_62</tspan><tspan x="273" dy="5.6">(1, 4, 64, 256), 256.0 KB</tspan></text></g>
<g id="transpose_12_61"><ellipse class="e" cx="208" cy="2176" rx="31" ry="13"/><text x="208" y="2171.9"><tspan class="b">transpose_12_61</tspan><tspan x="208" dy="5.6">(1, 4, 16, 256), 64.0 KB</tspan><tspan x="208" dy="5.6">dim0=-2, dim1=-1</tspan></text></g>
<g id="transpose_9_54"><ellipse class="e" cx="274" cy="2176" rx="30" ry="13"/><text x="274" y="2171.9"><tspan class="b">transpose_9_54</tspan><tspan x="274" dy="5.6">(1, 4, 64, 16), 16.0 KB</tspan><tspan x="274" dy="5.6">dim0=1, dim1=2</tspan></text></g>
<g id="transpose_10_57"><ellipse class="e" cx="207" cy="2214" rx="31" ry="13"/><text x="207" y="2209.9"><tspan class="b">transpose_10_57</tspan><tspan x="207" dy="5.6">(1, 4, 256, 16), 64.0 KB</tspan><tspan x="207" dy="5.6">dim0=1, dim1=2</tspan></text></g>
<g id="view_7_53"><ellipse class="e" cx="274" cy="2215" rx="30" ry="9"/><text x="274" y="2213.7"><tspan class="b">view_7_53</tspan><tspan x="274" dy="5.6">(1, 64, 4, 16), 16.0 KB</tspan></text></g>
<g id="view_8_56"><ellipse class="e" cx="207" cy="2252" rx="31" ry="9"/><text x="207" y="2250.7"><tspan class="b">view_8_56</tspan><tspan x="207" dy="5.6">(1, 256, 4, 16), 64.0 KB</tspan></text></g>
<g id="linear_15_52"><rect class="g" x="244" y="2237" width="62" height="30"/><text x="275" y="2242.3"><tspan class="b">linear_15_52</tspan><tspan x="275" dy="5.6">(1, 64, 64), 16.0 KB</tspan><tspan x="275" dy="5.6">in_features=64, out_features=64</tspan><tspan x="275" dy="5.6">params: weight (64, 64) · bias (64,)</tspan><tspan x="275" dy="5.6">@decoder.0.cross.Wq</tspan></text></g>
<g id="linear_16_55"><rect class="g" x="176" y="2277" width="63" height="30"/><text x="207.5" y="2282.3"><tspan class="b">linear_16_55</tspan><tspan x="207.5" dy="5.6">(1, 256, 64), 64.0 KB</tspan><tspan x="207.5" dy="5.6">in_features=64, out_features=64</tspan><tspan x="207.5" dy="5.6">params: weight (64, 64) · bias (64,)</tspan><tspan x="207.5" dy="5.6">@decoder.0.cross.Wk</tspan></text></g>
<g id="layernorm_9_51"><rect class="g" x="317" y="2277" width="64" height="30"/><text x="349" y="2282.3"><tspan class="b">layernorm_9_51</tspan><tspan x="349" dy="5.6">(1, 64, 64), 16.0 KB</tspan><tspan x="349" dy="5.6">normalized_shape=(64,), eps=1e-05</tspan><tspan x="349" dy="5.6">params: weight (64,) · bias (64,)</tspan><tspan x="349" dy="5.6">@decoder.0.n1</tspan></text></g>
<g id="linear_14_50"><rect class="g" x="339" y="2331" width="61" height="30"/><text x="369.5" y="2336.3"><tspan class="b">linear_14_50</tspan><tspan x="369.5" dy="5.6">(1, 64, 64), 16.0 KB</tspan><tspan x="369.5" dy="5.6">in_features=2, out_features=64</tspan><tspan x="369.5" dy="5.6">params: weight (64, 2) · bias (64,)</tspan><tspan x="369.5" dy="5.6">@query_proj</tspan></text></g>
<g id="input_2"><ellipse class="in" cx="369" cy="2410" rx="28" ry="14"/><text x="369" y="2405.9"><tspan class="b">input_2</tspan><tspan x="369" dy="5.6">(1, 64, 2), 512 B</tspan><tspan x="369" dy="5.6">@input.query_coords</tspan></text></g>

<g id="add_4_49"><ellipse class="e" cx="161" cy="2346" rx="28" ry="9"/><text x="161" y="2344.7"><tspan class="b">add_4_49</tspan><tspan x="161" dy="5.6">(1, 256, 64), 64.0 KB</tspan></text></g>
<g id="linear_13_48"><rect class="g" x="109" y="2395" width="63" height="29"/><text x="140.5" y="2399.8"><tspan class="b">linear_13_48</tspan><tspan x="140.5" dy="5.6">(1, 256, 64), 64.0 KB</tspan><tspan x="140.5" dy="5.6">in_features=256, out_features=64</tspan><tspan x="140.5" dy="5.6">params: weight (64, 256) · bias (64,)</tspan><tspan x="140.5" dy="5.6">@encoder.1.ffn.net.2</tspan></text></g>
<g id="gelu_2_47"><rect class="w" x="118" y="2434" width="45" height="18"/><text x="140.5" y="2438.9"><tspan class="b">gelu_2_47</tspan><tspan x="140.5" dy="5.6">(1, 256, 256), 256.0 KB</tspan><tspan x="140.5" dy="5.6">@encoder.1.ffn.net.1</tspan></text></g>
<g id="linear_12_46"><rect class="g" x="107" y="2463" width="66" height="30"/><text x="140" y="2468.3"><tspan class="b">linear_12_46</tspan><tspan x="140" dy="5.6">(1, 256, 256), 256.0 KB</tspan><tspan x="140" dy="5.6">in_features=64, out_features=256</tspan><tspan x="140" dy="5.6">params: weight (256, 64) · bias (256,)</tspan><tspan x="140" dy="5.6">@encoder.1.ffn.net.0</tspan></text></g>
<g id="layernorm_8_45"><rect class="g" x="115" y="2507" width="64" height="30"/><text x="147" y="2512.3"><tspan class="b">layernorm_8_45</tspan><tspan x="147" dy="5.6">(1, 256, 64), 64.0 KB</tspan><tspan x="147" dy="5.6">normalized_shape=(64,), eps=1e-05</tspan><tspan x="147" dy="5.6">params: weight (64,) · bias (64,)</tspan><tspan x="147" dy="5.6">@encoder.1.n2</tspan></text></g>
<g id="add_3_44"><ellipse class="e" cx="168" cy="2557" rx="28" ry="9"/><text x="168" y="2555.7"><tspan class="b">add_3_44</tspan><tspan x="168" dy="5.6">(1, 256, 64), 64.0 KB</tspan></text></g>
<g id="linear_11_43"><rect class="g" x="136" y="2584" width="62" height="30"/><text x="167" y="2589.3"><tspan class="b">linear_11_43</tspan><tspan x="167" dy="5.6">(1, 256, 64), 64.0 KB</tspan><tspan x="167" dy="5.6">in_features=64, out_features=64</tspan><tspan x="167" dy="5.6">params: weight (64, 64) · bias (64,)</tspan><tspan x="167" dy="5.6">@encoder.1.attn.out</tspan></text></g>
<g id="reshape_2_42"><ellipse class="e" cx="167" cy="2633" rx="28" ry="9"/><text x="167" y="2631.7"><tspan class="b">reshape_2_42</tspan><tspan x="167" dy="5.6">(1, 256, 64), 64.0 KB</tspan></text></g>
<g id="transpose_8_41"><ellipse class="e" cx="166" cy="2665" rx="31" ry="13"/><text x="166" y="2660.9"><tspan class="b">transpose_8_41</tspan><tspan x="166" dy="5.6">(1, 256, 4, 16), 64.0 KB</tspan><tspan x="166" dy="5.6">dim0=1, dim1=2</tspan></text></g>
<g id="einsum_4_40"><ellipse class="e" cx="165" cy="2698" rx="31" ry="9"/><text x="165" y="2696.7"><tspan class="b">einsum_4_40</tspan><tspan x="165" dy="5.6">(1, 4, 256, 16), 64.0 KB</tspan></text></g>
<g id="transpose_5_29"><ellipse class="e" cx="100" cy="2731" rx="31" ry="13"/><text x="100" y="2726.9"><tspan class="b">transpose_5_29</tspan><tspan x="100" dy="5.6">(1, 4, 256, 16), 64.0 KB</tspan><tspan x="100" dy="5.6">dim0=1, dim1=2</tspan></text></g>
<g id="truediv_2_39"><ellipse class="e" cx="165" cy="2731" rx="28" ry="9"/><text x="165" y="2729.7"><tspan class="b">truediv_2_39</tspan><tspan x="165" dy="5.6">(1, 4, 16, 16), 4.0 KB</tspan></text></g>
<g id="view_4_28"><ellipse class="e" cx="100" cy="2764" rx="31" ry="9"/><text x="100" y="2762.7"><tspan class="b">view_4_28</tspan><tspan x="100" dy="5.6">(1, 256, 4, 16), 64.0 KB</tspan></text></g>
<g id="einsum_3_38"><ellipse class="e" cx="165" cy="2764" rx="28" ry="9"/><text x="165" y="2762.7"><tspan class="b">einsum_3_38</tspan><tspan x="165" dy="5.6">(1, 4, 16, 16), 4.0 KB</tspan></text></g>
<g id="layernorm_6_33"><rect class="g" x="68" y="2784" width="62" height="30"/><text x="99" y="2789.3"><tspan class="b">layernorm_6_33</tspan><tspan x="99" dy="5.6">(1, 4, 256, 16), 64.0 KB</tspan><tspan x="99" dy="5.6">normalized_shape=(16,), eps=1e-05</tspan><tspan x="99" dy="5.6">params: weight (16,) · bias (16,)</tspan><tspan x="99" dy="5.6">@encoder.1.attn.ln_k</tspan></text></g>
<g id="layernorm_7_37"><rect class="g" x="135" y="2784" width="64" height="30"/><text x="167" y="2789.3"><tspan class="b">layernorm_7_37</tspan><tspan x="167" dy="5.6">(1, 4, 256, 16), 64.0 KB</tspan><tspan x="167" dy="5.6">normalized_shape=(16,), eps=1e-05</tspan><tspan x="167" dy="5.6">params: weight (16,) · bias (16,)</tspan><tspan x="167" dy="5.6">@encoder.1.attn.ln_v</tspan></text></g>
<g id="transpose_6_32"><ellipse class="e" cx="99" cy="2837" rx="31" ry="13"/><text x="99" y="2832.9"><tspan class="b">transpose_6_32</tspan><tspan x="99" dy="5.6">(1, 4, 256, 16), 64.0 KB</tspan><tspan x="99" dy="5.6">dim0=1, dim1=2</tspan></text></g>
<g id="transpose_7_36"><ellipse class="e" cx="167" cy="2837" rx="31" ry="13"/><text x="167" y="2832.9"><tspan class="b">transpose_7_36</tspan><tspan x="167" dy="5.6">(1, 4, 256, 16), 64.0 KB</tspan><tspan x="167" dy="5.6">dim0=1, dim1=2</tspan></text></g>
<g id="view_5_31"><ellipse class="e" cx="99" cy="2870" rx="31" ry="9"/><text x="99" y="2868.7"><tspan class="b">view_5_31</tspan><tspan x="99" dy="5.6">(1, 256, 4, 16), 64.0 KB</tspan></text></g>
<g id="view_6_35"><ellipse class="e" cx="167" cy="2870" rx="31" ry="9"/><text x="167" y="2868.7"><tspan class="b">view_6_35</tspan><tspan x="167" dy="5.6">(1, 256, 4, 16), 64.0 KB</tspan></text></g>
<g id="linear_8_27"><rect class="g" x="9" y="2889" width="62" height="30"/><text x="40" y="2894.3"><tspan class="b">linear_8_27</tspan><tspan x="40" dy="5.6">(1, 256, 64), 64.0 KB</tspan><tspan x="40" dy="5.6">in_features=64, out_features=64</tspan><tspan x="40" dy="5.6">params: weight (64, 64) · bias (64,)</tspan><tspan x="40" dy="5.6">@encoder.1.attn.Wq</tspan></text></g>
<g id="linear_9_30"><rect class="g" x="76" y="2889" width="62" height="30"/><text x="107" y="2894.3"><tspan class="b">linear_9_30</tspan><tspan x="107" dy="5.6">(1, 256, 64), 64.0 KB</tspan><tspan x="107" dy="5.6">in_features=64, out_features=64</tspan><tspan x="107" dy="5.6">params: weight (64, 64) · bias (64,)</tspan><tspan x="107" dy="5.6">@encoder.1.attn.Wk</tspan></text></g>
<g id="linear_10_34"><rect class="g" x="143" y="2889" width="61" height="30"/><text x="173.5" y="2894.3"><tspan class="b">linear_10_34</tspan><tspan x="173.5" dy="5.6">(1, 256, 64), 64.0 KB</tspan><tspan x="173.5" dy="5.6">in_features=64, out_features=64</tspan><tspan x="173.5" dy="5.6">params: weight (64, 64) · bias (64,)</tspan><tspan x="173.5" dy="5.6">@encoder.1.attn.Wv</tspan></text></g>
<g id="layernorm_5_26"><rect class="g" x="134" y="2929" width="64" height="30"/><text x="166" y="2934.3"><tspan class="b">layernorm_5_26</tspan><tspan x="166" dy="5.6">(1, 256, 64), 64.0 KB</tspan><tspan x="166" dy="5.6">normalized_shape=(64,), eps=1e-05</tspan><tspan x="166" dy="5.6">params: weight (64,) · bias (64,)</tspan><tspan x="166" dy="5.6">@encoder.1.n1</tspan></text></g>

<g id="add_2_25"><ellipse class="e" cx="173" cy="2992" rx="28" ry="9"/><text x="173" y="2990.7"><tspan class="b">add_2_25</tspan><tspan x="173" dy="5.6">(1, 256, 64), 64.0 KB</tspan></text></g>
<g id="linear_7_24"><rect class="g" x="109" y="3036" width="64" height="29"/><text x="141" y="3040.8"><tspan class="b">linear_7_24</tspan><tspan x="141" dy="5.6">(1, 256, 64), 64.0 KB</tspan><tspan x="141" dy="5.6">in_features=256, out_features=64</tspan><tspan x="141" dy="5.6">params: weight (64, 256) · bias (64,)</tspan><tspan x="141" dy="5.6">@encoder.0.ffn.net.2</tspan></text></g>
<g id="gelu_1_23"><rect class="w" x="119" y="3076" width="44" height="18"/><text x="141" y="3080.9"><tspan class="b">gelu_1_23</tspan><tspan x="141" dy="5.6">(1, 256, 256), 256.0 KB</tspan><tspan x="141" dy="5.6">@encoder.0.ffn.net.1</tspan></text></g>
<g id="linear_6_22"><rect class="g" x="108" y="3105" width="66" height="30"/><text x="141" y="3110.3"><tspan class="b">linear_6_22</tspan><tspan x="141" dy="5.6">(1, 256, 256), 256.0 KB</tspan><tspan x="141" dy="5.6">in_features=64, out_features=256</tspan><tspan x="141" dy="5.6">params: weight (256, 64) · bias (256,)</tspan><tspan x="141" dy="5.6">@encoder.0.ffn.net.0</tspan></text></g>
<g id="layernorm_4_21"><rect class="g" x="122" y="3148" width="63" height="30"/><text x="153.5" y="3153.3"><tspan class="b">layernorm_4_21</tspan><tspan x="153.5" dy="5.6">(1, 256, 64), 64.0 KB</tspan><tspan x="153.5" dy="5.6">normalized_shape=(64,), eps=1e-05</tspan><tspan x="153.5" dy="5.6">params: weight (64,) · bias (64,)</tspan><tspan x="153.5" dy="5.6">@encoder.0.n2</tspan></text></g>
<g id="add_1_20"><ellipse class="e" cx="171" cy="3197" rx="28" ry="9"/><text x="171" y="3195.7"><tspan class="b">add_1_20</tspan><tspan x="171" dy="5.6">(1, 256, 64), 64.0 KB</tspan></text></g>
<g id="linear_5_19"><rect class="g" x="140" y="3225" width="62" height="29"/><text x="171" y="3229.8"><tspan class="b">linear_5_19</tspan><tspan x="171" dy="5.6">(1, 256, 64), 64.0 KB</tspan><tspan x="171" dy="5.6">in_features=64, out_features=64</tspan><tspan x="171" dy="5.6">params: weight (64, 64) · bias (64,)</tspan><tspan x="171" dy="5.6">@encoder.0.attn.out</tspan></text></g>
<g id="reshape_1_18"><ellipse class="e" cx="171" cy="3274" rx="28" ry="9"/><text x="171" y="3272.7"><tspan class="b">reshape_1_18</tspan><tspan x="171" dy="5.6">(1, 256, 64), 64.0 KB</tspan></text></g>
<g id="transpose_4_17"><ellipse class="e" cx="170" cy="3307" rx="31" ry="13"/><text x="170" y="3302.9"><tspan class="b">transpose_4_17</tspan><tspan x="170" dy="5.6">(1, 256, 4, 16), 64.0 KB</tspan><tspan x="170" dy="5.6">dim0=1, dim1=2</tspan></text></g>
<g id="einsum_2_16"><ellipse class="e" cx="169" cy="3340" rx="31" ry="9"/><text x="169" y="3338.7"><tspan class="b">einsum_2_16</tspan><tspan x="169" dy="5.6">(1, 4, 256, 16), 64.0 KB</tspan></text></g>
<g id="transpose_1_5"><ellipse class="e" cx="105" cy="3372" rx="31" ry="13"/><text x="105" y="3367.9"><tspan class="b">transpose_1_5</tspan><tspan x="105" dy="5.6">(1, 4, 256, 16), 64.0 KB</tspan><tspan x="105" dy="5.6">dim0=1, dim1=2</tspan></text></g>
<g id="truediv_1_15"><ellipse class="e" cx="169" cy="3372" rx="28" ry="9"/><text x="169" y="3370.7"><tspan class="b">truediv_1_15</tspan><tspan x="169" dy="5.6">(1, 4, 16, 16), 4.0 KB</tspan></text></g>
<g id="view_1_4"><ellipse class="e" cx="105" cy="3405" rx="31" ry="9"/><text x="105" y="3403.7"><tspan class="b">view_1_4</tspan><tspan x="105" dy="5.6">(1, 256, 4, 16), 64.0 KB</tspan></text></g>
<g id="einsum_1_14"><ellipse class="e" cx="170" cy="3405" rx="28" ry="9"/><text x="170" y="3403.7"><tspan class="b">einsum_1_14</tspan><tspan x="170" dy="5.6">(1, 4, 16, 16), 4.0 KB</tspan></text></g>
<g id="layernorm_2_9"><rect class="g" x="72" y="3426" width="63" height="29"/><text x="103.5" y="3430.8"><tspan class="b">layernorm_2_9</tspan><tspan x="103.5" dy="5.6">(1, 4, 256, 16), 64.0 KB</tspan><tspan x="103.5" dy="5.6">normalized_shape=(16,), eps=1e-05</tspan><tspan x="103.5" dy="5.6">params: weight (16,) · bias (16,)</tspan><tspan x="103.5" dy="5.6">@encoder.0.attn.ln_k</tspan></text></g>
<g id="layernorm_3_13"><rect class="g" x="140" y="3426" width="63" height="29"/><text x="171.5" y="3430.8"><tspan class="b">layernorm_3_13</tspan><tspan x="171.5" dy="5.6">(1, 4, 256, 16), 64.0 KB</tspan><tspan x="171.5" dy="5.6">normalized_shape=(16,), eps=1e-05</tspan><tspan x="171.5" dy="5.6">params: weight (16,) · bias (16,)</tspan><tspan x="171.5" dy="5.6">@encoder.0.attn.ln_v</tspan></text></g>
<g id="transpose_2_8"><ellipse class="e" cx="104" cy="3478" rx="31" ry="13"/><text x="104" y="3473.9"><tspan class="b">transpose_2_8</tspan><tspan x="104" dy="5.6">(1, 4, 256, 16), 64.0 KB</tspan><tspan x="104" dy="5.6">dim0=1, dim1=2</tspan></text></g>
<g id="transpose_3_12"><ellipse class="e" cx="171" cy="3478" rx="31" ry="13"/><text x="171" y="3473.9"><tspan class="b">transpose_3_12</tspan><tspan x="171" dy="5.6">(1, 4, 256, 16), 64.0 KB</tspan><tspan x="171" dy="5.6">dim0=1, dim1=2</tspan></text></g>
<g id="view_2_7"><ellipse class="e" cx="104" cy="3511" rx="31" ry="9"/><text x="104" y="3509.7"><tspan class="b">view_2_7</tspan><tspan x="104" dy="5.6">(1, 256, 4, 16), 64.0 KB</tspan></text></g>
<g id="view_3_11"><ellipse class="e" cx="171" cy="3511" rx="31" ry="9"/><text x="171" y="3509.7"><tspan class="b">view_3_11</tspan><tspan x="171" dy="5.6">(1, 256, 4, 16), 64.0 KB</tspan></text></g>
<g id="linear_2_3"><rect class="g" x="13" y="3531" width="62" height="29"/><text x="44" y="3535.8"><tspan class="b">linear_2_3</tspan><tspan x="44" dy="5.6">(1, 256, 64), 64.0 KB</tspan><tspan x="44" dy="5.6">in_features=64, out_features=64</tspan><tspan x="44" dy="5.6">params: weight (64, 64) · bias (64,)</tspan><tspan x="44" dy="5.6">@encoder.0.attn.Wq</tspan></text></g>
<g id="linear_3_6"><rect class="g" x="80" y="3531" width="62" height="29"/><text x="111" y="3535.8"><tspan class="b">linear_3_6</tspan><tspan x="111" dy="5.6">(1, 256, 64), 64.0 KB</tspan><tspan x="111" dy="5.6">in_features=64, out_features=64</tspan><tspan x="111" dy="5.6">params: weight (64, 64) · bias (64,)</tspan><tspan x="111" dy="5.6">@encoder.0.attn.Wk</tspan></text></g>
<g id="linear_4_10"><rect class="g" x="147" y="3531" width="62" height="29"/><text x="178" y="3535.8"><tspan class="b">linear_4_10</tspan><tspan x="178" dy="5.6">(1, 256, 64), 64.0 KB</tspan><tspan x="178" dy="5.6">in_features=64, out_features=64</tspan><tspan x="178" dy="5.6">params: weight (64, 64) · bias (64,)</tspan><tspan x="178" dy="5.6">@encoder.0.attn.Wv</tspan></text></g>
<g id="layernorm_1_2"><rect class="g" x="113" y="3570" width="63" height="30"/><text x="144.5" y="3575.3"><tspan class="b">layernorm_1_2</tspan><tspan x="144.5" dy="5.6">(1, 256, 64), 64.0 KB</tspan><tspan x="144.5" dy="5.6">normalized_shape=(64,), eps=1e-05</tspan><tspan x="144.5" dy="5.6">params: weight (64,) · bias (64,)</tspan><tspan x="144.5" dy="5.6">@encoder.0.n1</tspan></text></g>
<g id="linear_1_1"><rect class="g" x="151" y="3610" width="60" height="31"/><text x="181" y="3615.8"><tspan class="b">linear_1_1</tspan><tspan x="181" dy="5.6">(1, 256, 64), 64.0 KB</tspan><tspan x="181" dy="5.6">in_features=3, out_features=64</tspan><tspan x="181" dy="5.6">params: weight (64, 3) · bias (64,)</tspan><tspan x="181" dy="5.6">@input_proj</tspan></text></g>
<g id="input_1"><ellipse class="in" cx="181" cy="3663" rx="26" ry="13"/><text x="181" y="3658.9"><tspan class="b">input_1</tspan><tspan x="181" dy="5.6">(1, 256, 3), 3.0 KB</tspan><tspan x="181" dy="5.6">@input.x</tspan></text></g>
</svg>
